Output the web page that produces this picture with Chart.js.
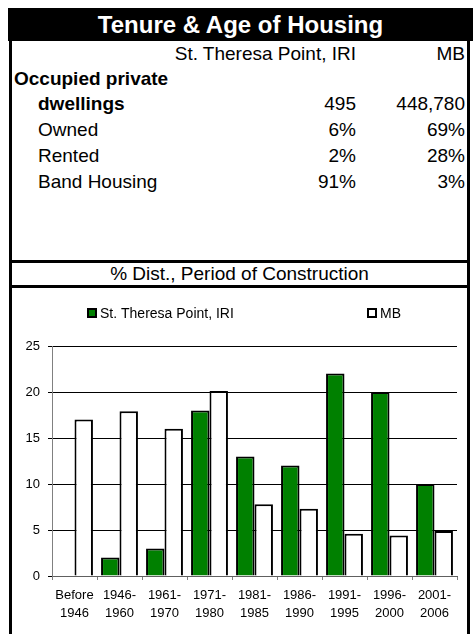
<!DOCTYPE html>
<html>
<head>
<meta charset="utf-8">
<script src="https://cdn.jsdelivr.net/npm/chart.js@4.4.1/dist/chart.umd.min.js"></script>
<style>
  html, body { margin: 0; padding: 0; background: #fff; }
  body { width: 475px; height: 634px; position: relative; overflow: hidden;
         font-family: "Liberation Sans", Arial, Helvetica, sans-serif; color: #000; }
  .abs { position: absolute; box-sizing: border-box; }
  #hdr { left: 8px; top: 8px; width: 465px; height: 33px; background: #000; color: #fff;
         font-weight: bold; font-size: 24px; line-height: 33px; text-align: center; }
  #tbl { left: 9px; top: 41px; width: 461px; height: 222px;
         border-left: 3px solid #000; border-right: 3px solid #000; border-bottom: 3px solid #000; }
  #sub { left: 9px; top: 263px; width: 461px; height: 25px; font-size: 19px; line-height: 22px; text-align: center;
         border-left: 3px solid #000; border-right: 3px solid #000; border-bottom: 3px solid #000; }
  #box { left: 9px; top: 288px; width: 461px; height: 360px;
         border-left: 3px solid #000; border-right: 3px solid #000; }
  .row { position: absolute; left: 0; width: 475px; height: 26px; font-size: 19px; line-height: 26px; }
  .row span { position: absolute; white-space: nowrap; }
  .c1 { right: 119px; }
  .c2 { right: 10px; }
  #chart { position: absolute; left: 12px; top: 288px; }
</style>
</head>
<body>
<div id="hdr" class="abs">Tenure &amp; Age of Housing</div>
<div id="tbl" class="abs"></div>
<div id="sub" class="abs">% Dist., Period of Construction</div>
<div id="box" class="abs"></div>

<div class="row" style="top:41px"><span class="c1">St. Theresa Point, IRI</span><span class="c2">MB</span></div>
<div class="row" style="top:66px"><span style="left:14px;font-weight:bold">Occupied private</span></div>
<div class="row" style="top:91px"><span style="left:38px;font-weight:bold">dwellings</span><span class="c1">495</span><span class="c2">448,780</span></div>
<div class="row" style="top:117px"><span style="left:38px">Owned</span><span class="c1">6%</span><span class="c2">69%</span></div>
<div class="row" style="top:143px"><span style="left:38px">Rented</span><span class="c1">2%</span><span class="c2">28%</span></div>
<div class="row" style="top:169px"><span style="left:38px">Band Housing</span><span class="c1">91%</span><span class="c2">3%</span></div>

<canvas id="chart" width="455" height="346"></canvas>

<script>
const categories = [
  ["Before", "1946"], ["1946-", "1960"], ["1961-", "1970"], ["1971-", "1980"],
  ["1981-", "1985"], ["1986-", "1990"], ["1991-", "1995"], ["1996-", "2000"], ["2001-", "2006"]
];
const seriesNames = ["St. Theresa Point, IRI", "MB"];
const stTheresaValues = [0, 2, 3, 18, 13, 12, 22, 20, 10];
const mbValues = [17.0, 17.9, 16.0, 20.1, 7.8, 7.3, 4.6, 4.4, 4.9];
const yTicks = [0, 5, 10, 15, 20, 25];

const FONT = '"Liberation Sans", Arial, Helvetica, sans-serif';

const legendPlugin = {
  id: 'customLegend',
  afterDraw(chart) {
    const ctx = chart.ctx;
    const xs = [75, 355];
    const y = 25;
    ctx.save();
    ctx.font = '14px ' + FONT;
    ctx.textBaseline = 'middle';
    ctx.textAlign = 'left';
    chart.data.datasets.forEach((ds, i) => {
      const x = xs[i];
      ctx.fillStyle = ds.backgroundColor;
      ctx.fillRect(x, y - 5, 10, 10);
      ctx.strokeStyle = '#000';
      ctx.lineWidth = 2;
      ctx.strokeRect(x + 1, y - 4, 8, 8);
      ctx.fillStyle = '#000';
      ctx.fillText(ds.label, x + 13, y + 1);
    });
    ctx.restore();
  }
};

new Chart(document.getElementById('chart'), {
  type: 'bar',
  data: {
    labels: categories,
    datasets: [
      { label: seriesNames[0], data: stTheresaValues, backgroundColor: '#008000',
        borderColor: '#000', borderWidth: 2 },
      { label: seriesNames[1], data: mbValues, backgroundColor: '#ffffff',
        borderColor: '#000', borderWidth: 2 }
    ]
  },
  options: {
    responsive: false,
    animation: false,
    devicePixelRatio: 1,
    layout: { padding: { top: 58, right: 10, left: 0, bottom: 0 } },
    datasets: { bar: { categoryPercentage: 0.82, barPercentage: 1.0 } },
    plugins: { legend: { display: false }, tooltip: { enabled: false }, title: { display: false } },
    scales: {
      x: {
        grid: { display: true, drawOnChartArea: false, drawTicks: true, tickLength: 4, color: '#808080', offset: true },
        border: { display: true, color: '#606060', width: 1 },
        ticks: { color: '#000', font: { family: FONT, size: 13, lineHeight: 1.385 },
                 padding: 6, maxRotation: 0, minRotation: 0, autoSkip: false },
        afterFit(scale) { scale.height = 58; }
      },
      y: {
        min: 0, max: 25,
        afterBuildTicks(scale) { scale.ticks = yTicks.map(v => ({ value: v })); },
        grid: { color: '#000', lineWidth: 1, drawTicks: true, tickLength: 4 },
        border: { display: true, color: '#808080', width: 1 },
        ticks: { color: '#000', font: { family: FONT, size: 13 }, padding: 8 },
        afterFit(scale) { scale.width = 40; }
      }
    }
  },
  plugins: [legendPlugin]
});
</script>
</body>
</html>
